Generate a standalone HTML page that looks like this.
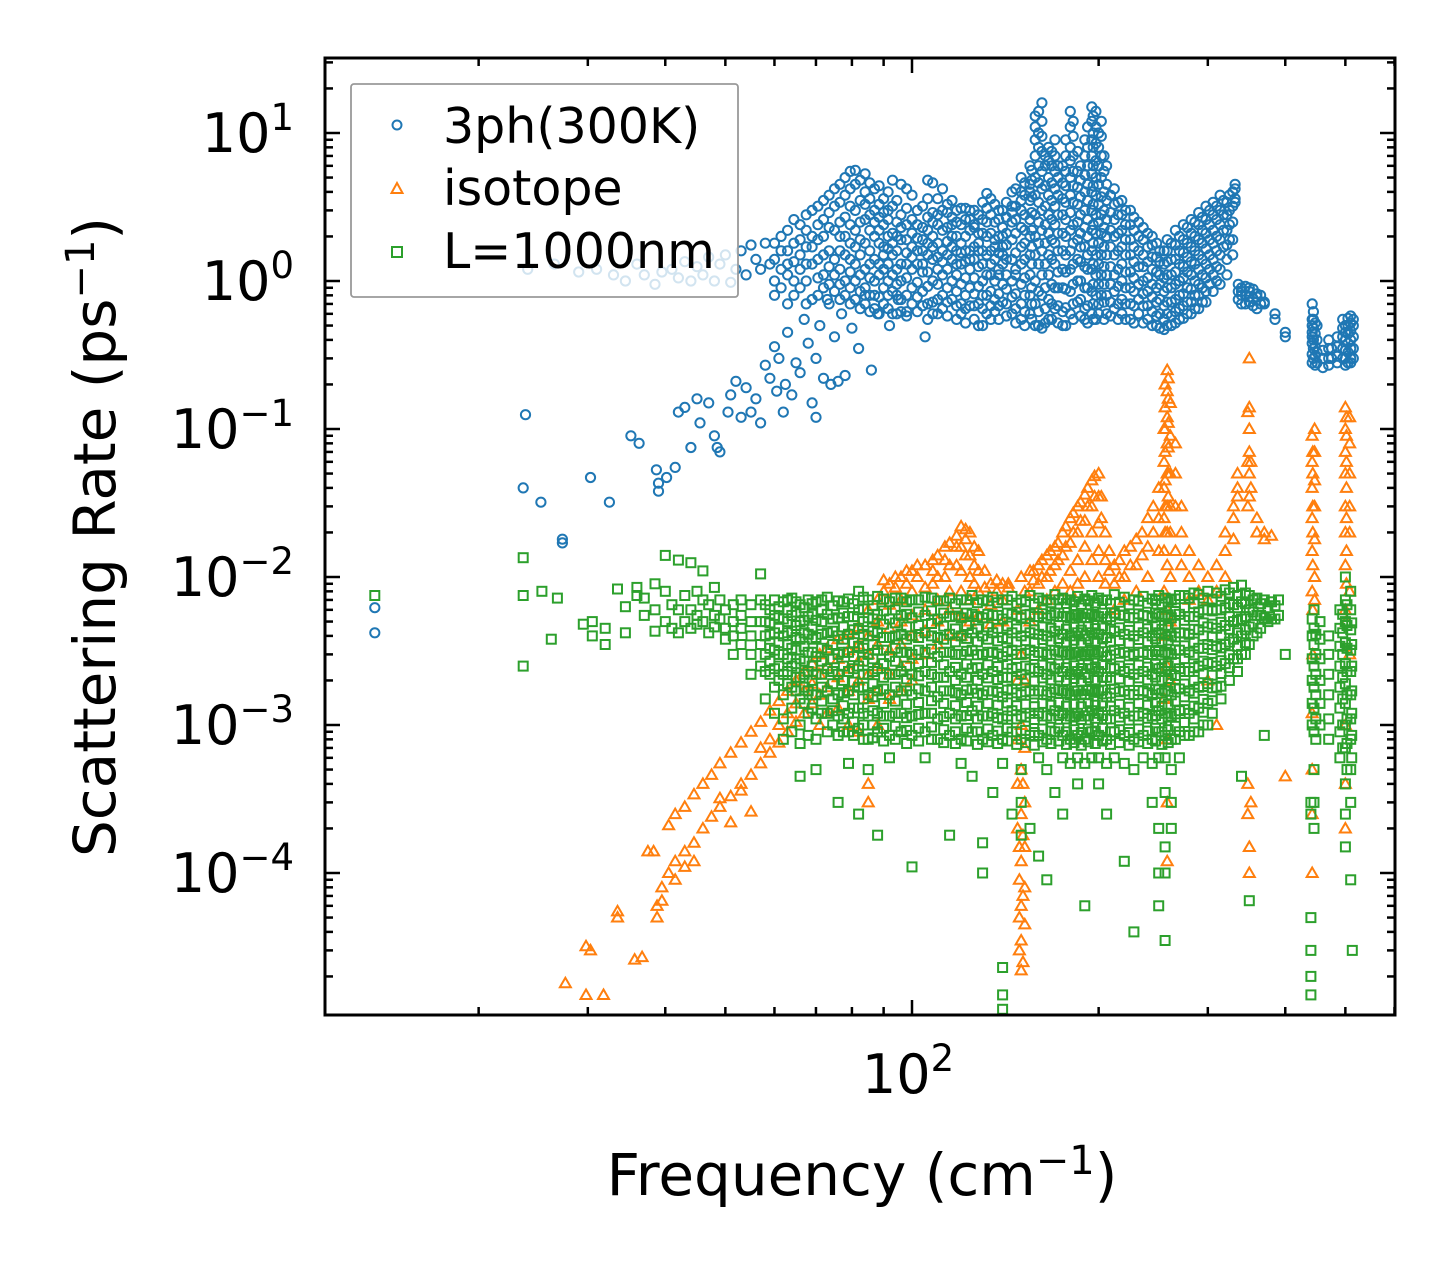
<!DOCTYPE html>
<html><head><meta charset="utf-8"><style>
html,body{margin:0;padding:0;background:#fff;}
svg{display:block;font-family:"DejaVu Sans","Liberation Sans",sans-serif;}
</style></head><body>
<svg id="chart" width="1455" height="1265" viewBox="0 0 1455 1265" xmlns="http://www.w3.org/2000/svg">
<defs><clipPath id="plotclip"><rect x="325" y="58" width="1070" height="957"/></clipPath></defs>
<rect x="0" y="0" width="1455" height="1265" fill="#fff"/>
<g id="marks" clip-path="url(#plotclip)"></g>
<g id="axes"></g>
<text transform="translate(115,537) rotate(-90)" text-anchor="middle" font-size="58">Scattering Rate (ps<tspan dy="-21" font-size="40">−1</tspan><tspan dy="21">)</tspan></text>
<text x="862" y="1195" text-anchor="middle" font-size="58">Frequency (cm<tspan dy="-21" font-size="40">−1</tspan><tspan dy="21">)</tspan></text>
<g>
<rect x="351" y="84" width="387" height="213" rx="3" fill="#fff" fill-opacity="0.8" stroke="#999" stroke-width="1.8"/>
<circle cx="397" cy="125" r="4.5" fill="none" stroke="#1f77b4" stroke-width="2"/>
<text x="443" y="143" font-size="49">3ph(300K)</text>
<polygon points="397,183 402.5,193 391.5,193" fill="none" stroke="#ff7f0e" stroke-width="2"/>
<text x="443" y="205" font-size="49">isotope</text>
<rect x="392" y="247" width="10" height="10" fill="none" stroke="#2ca02c" stroke-width="2"/>
<text x="443" y="268" font-size="49">L=1000nm</text>
</g>
</svg>
<script>
// ---- data (frequency cm^-1, list of scattering rates ps^-1) ----
const blueSparse = [[13.6,[0.0062,0.0042]],[23.6,[0.04]],[23.8,[0.125]],[25.2,[0.032]],[27.3,[0.018,0.017]],[30.3,[0.047]],[32.5,[0.032]],[35.2,[0.09]],[36.3,[0.08]],[38.7,[0.053]],[39.0,[0.043,0.038]],[40.2,[0.047]],[41.5,[0.055]],[42,[0.13]],[43,[0.14]],[44,[0.075]],[45,[0.16]],[45.5,[0.11]],[47,[0.15]],[48,[0.09]],[48.5,[0.075]],[49,[0.07]],[50.5,[0.13]],[51,[0.17]],[52,[0.21]],[53,[0.12]],[54,[0.19]],[55,[0.13]],[56,[0.16]],[57,[0.11]],[58,[0.27]],[59,[0.22]],[60,[0.36]],[60.5,[0.18]],[61,[0.3]],[62,[0.13]],[62.5,[0.2]],[63,[0.45]],[64,[0.17]],[65,[0.28]],[66,[0.24]],[67,[0.55]],[68,[0.38]],[69,[0.15]],[70,[0.12,0.3]],[71,[0.5]],[72,[0.22]],[73,[0.75]],[74,[0.2]],[75,[0.42]],[76,[0.21]],[77,[0.6]],[78,[0.23]],[80,[0.48]],[82,[0.35]],[84,[0.8]],[86,[0.25]],[88,[0.6]],[92,[0.5]],[95,[0.75]],[98,[0.62]],[105,[0.42]],
[24,[1.2]],[26.5,[1.3]],[29,[1.15]],[31,[1.2]],[33,[1.1]],[34.5,[1.0]],[36,[1.3]],[37,[1.1]],[38.5,[0.95]],[39.5,[1.15]],[41,[1.2]],[42,[1.05]],[43,[1.35]],[44,[1.0]],[45,[1.25]],[46,[1.1]],[47,[1.45]],[48,[1.0]],[49,[1.3]],[50,[1.5]],[51,[0.98]],[52,[1.2]],[53,[1.6]],[54,[1.1]],[55,[1.75]],[56,[1.4]],[57,[1.2]],[58,[1.8]],[59,[1.3]]];
const blueDense = [[60,[1.0,1.4,1.8,0.8]],[63,[1.6,2.2,1.1,0.7,1.3]],[66,[2.4,1.5,1.9,0.9,1.2]],[69,[2.0,1.3,3.0,0.75,1.7]],[72,[2.6,1.5,1.1,0.9,3.5,2.0]],[75,[3.2,4.2,1.4,0.85,2.2,1.1]],[78,[5.0,3.8,2.7,1.5,1.0,0.8,2.0]],[81,[5.6,4.5,3.0,2.2,1.3,1.0,0.75,1.7]],[84,[5.3,4.0,2.6,1.8,1.2,0.9,0.7,3.3]],[87,[4.2,3.0,2.0,1.4,1.0,0.8,0.65,2.5]],[90,[3.6,2.4,1.7,1.2,0.9,0.7,2.9,1.5]],[93,[4.8,3.2,2.1,1.5,1.1,0.85,0.6,1.8]],[96,[4.5,2.8,1.9,1.3,1.0,0.75,0.62,2.3]],[100,[3.8,2.6,1.7,1.2,0.9,0.7,2.1,1.45]],[104,[3.2,2.3,1.6,1.15,0.85,0.68,1.9,1.3]],[108,[4.6,2.9,2.0,1.4,1.0,0.72,2.5,1.7,0.6]],[112,[4.2,3.0,2.2,1.6,1.1,0.8,0.65,1.35]],[116,[3.5,2.7,2.0,1.4,1.0,0.75,1.7,2.4]],[120,[3.1,2.4,1.8,1.3,0.95,0.7,0.6,1.55]],[124,[3.0,2.2,1.6,1.2,0.9,0.68,1.4,2.6]],[128,[2.8,2.1,1.6,1.25,0.92,0.7,0.5,1.8]],[132,[3.9,3.1,2.0,1.5,1.1,0.8,0.6,2.5]],[136,[3.3,2.5,1.9,1.4,1.0,0.75,0.62,1.7]],[140,[3.0,2.3,1.7,1.3,0.95,0.72,1.5,2.0]],[145,[4.0,3.2,2.5,1.9,1.4,1.0,0.78,0.6,2.9]],[150,[5.0,4.0,3.0,2.3,1.7,1.3,0.95,0.7,0.55,3.5]],[155,[6.0,4.5,3.5,2.6,2.0,1.5,1.1,0.8,0.6,4.0]],[158,[11,13,9,7,5,3.8,2.8,2.0,1.5,1.0,0.7,0.5]],[162,[16,12,9.5,7.5,5.5,4.2,3,2.2,1.6,1.1,0.8,0.48]],[166,[8,6.5,5,3.8,2.8,2.1,1.5,1.1,0.75,0.55]],[170,[7,9,5.5,4.2,3.2,2.4,1.8,1.3,0.9,0.65]],[175,[6,4.6,3.6,2.8,2.1,1.6,1.2,0.9,0.62,0.5]],[180,[14,11,8,6.5,5,3.8,2.9,2.2,1.6,1.2,0.85,0.6]],[185,[7.5,5.5,4.3,3.3,2.5,1.9,1.4,1.0,0.72]],[190,[9,7,5.2,4,3,2.3,1.7,1.25,0.9,0.65,0.55]],[195,[15,12,9,7,5.3,4,3,2.2,1.6,1.2,0.85,0.6]],[198,[14,11,8.5,6.5,5,3.8,2.8,2.1,1.5,1.1,0.8,0.55]],[202,[12,9.5,7,5,3.7,2.8,2.1,1.5,1.1,0.8]],[206,[6,4.5,3.5,2.6,2.0,1.5,1.1,0.8,0.6]],[212,[4.2,3.3,2.6,2.0,1.5,1.1,0.85,0.65]],[218,[3.5,2.8,2.2,1.7,1.3,1.0,0.75,0.6]],[225,[3.0,2.4,1.9,1.5,1.15,0.9,0.7,0.55]],[232,[2.5,2.0,1.6,1.25,0.95,0.75,0.6]],[240,[2.1,1.7,1.35,1.05,0.85,0.68,0.55]],[248,[1.8,1.45,1.15,0.9,0.72,0.58,0.5]],[255,[1.6,1.3,1.05,0.85,0.68,0.55,0.47]],[262,[1.8,1.4,1.1,0.9,0.72,0.58,0.5]],[270,[2.0,1.6,1.3,1.0,0.8,0.65,0.55]],[278,[2.3,1.8,1.45,1.15,0.9,0.72,0.6]],[286,[2.5,2.0,1.6,1.3,1.0,0.8,0.65]],[294,[2.7,2.2,1.8,1.4,1.1,0.9,0.72]],[302,[3.0,2.4,1.9,1.5,1.2,0.95]],[310,[3.2,2.6,2.0,1.6,1.25,1.0]],[318,[3.5,2.8,2.2,1.7]],[325,[3.8,3.0,2.4,1.9]],[332,[4.2,4.5,3.4,3.6]],[340,[0.9,0.8,0.7,0.85]],[350,[0.85,0.72,0.9,0.78]],[360,[0.78,0.65,0.82]],[370,[0.72,0.7]],[385,[0.6,0.55]],[400,[0.45,0.42]],[442,[0.7,0.55,0.45,0.38,0.32,0.28,0.5,0.42]],[450,[0.5,0.4,0.33,0.28]],[470,[0.4,0.35,0.3,0.27]],[485,[0.42,0.36,0.31,0.28]],[500,[0.5,0.45,0.4,0.34,0.3,0.27]],[510,[0.58,0.52,0.46,0.4,0.35,0.3,0.28]]];
const blueDenseB = [[61.5,[0.9,1.2,1.6,2.0]],[64.5,[0.8,1.0,1.35,1.8,2.6]],[67.5,[0.7,1.0,1.3,1.7,2.2,2.8]],[70.5,[0.8,1.05,1.4,1.9,2.4,3.2]],[73.5,[0.7,0.95,1.25,1.6,2.3,2.9,3.8]],[76.5,[0.75,0.95,1.2,1.6,2.0,2.5,3.4,4.5]],[79.5,[0.7,0.9,1.15,1.4,1.8,2.4,3.2,4.2,5.5]],[82.5,[0.65,0.85,1.1,1.5,1.9,2.5,3.5,4.8]],[85.5,[0.62,0.8,1.05,1.3,1.6,2.2,2.8,3.6,4.6]],[88.5,[0.6,0.78,1.1,1.3,1.8,2.2,2.7,3.3,4.4]],[91.5,[0.65,0.8,1.0,1.3,1.65,2.0,2.6,3.0,4.0]],[94.5,[0.6,0.8,0.95,1.2,1.6,2.0,2.5,3.5]],[98,[0.58,0.8,1.05,1.3,1.55,1.9,2.4,3.1,4.2]],[102,[0.62,0.78,0.98,1.3,1.6,1.95,2.4,3.0]],[106,[0.55,0.7,0.92,1.15,1.5,1.8,2.2,2.7,3.6,4.8]],[110,[0.6,0.75,0.95,1.2,1.45,1.8,2.4,2.8,3.6]],[114,[0.58,0.72,0.9,1.2,1.5,1.85,2.3,2.9,3.3]],[118,[0.55,0.68,0.85,1.1,1.3,1.6,2.0,2.5,3.0]],[122,[0.52,0.65,0.8,1.05,1.35,1.6,2.0,2.6,3.1]],[126,[0.55,0.68,0.82,1.05,1.4,1.7,2.3,2.4,3.0]],[130,[0.5,0.65,0.8,1.0,1.3,1.6,2.1,2.6,3.4]],[134,[0.55,0.68,0.85,1.1,1.3,1.6,2.1,2.8,3.6]],[138,[0.55,0.68,0.82,1.1,1.2,1.55,2.0,2.6,3.0]],[142,[0.58,0.7,0.88,1.1,1.4,1.75,2.1,2.7,3.4]],[147,[0.52,0.65,0.82,1.1,1.2,1.55,2.1,2.6,3.2,4.2]],[152,[0.5,0.62,0.8,1.05,1.4,1.8,2.2,2.8,3.8,4.6]],[156,[0.55,0.7,0.9,1.3,1.7,2.2,2.9,3.7,4.8,5.6]],[160,[0.5,0.62,0.85,1.3,1.8,2.5,3.4,4.6,6,8,10,14]],[164,[0.52,0.65,0.9,1.3,1.8,2.4,3.2,4.4,6,7]],[168,[0.55,0.7,0.95,1.4,1.9,2.6,3.5,4.6,6,7.5]],[172,[0.52,0.68,0.9,1.15,1.6,2.1,2.8,3.8,5,6]],[177,[0.5,0.66,0.88,1.15,1.5,2.0,2.6,3.4,4.4,5.5,7,9]],[182,[0.55,0.7,0.95,1.3,1.8,2.4,3.4,4.4,5.5,7,9.5,12]],[187,[0.58,0.75,1.0,1.35,1.7,2.1,2.8,3.7,4.8,6]],[192,[0.52,0.68,0.9,1.2,1.5,2.0,2.6,3.5,4.5,6,8,11]],[196,[0.55,0.7,0.95,1.3,1.8,2.4,3.3,4.4,6,8,10,13]],[200,[0.6,0.7,0.95,1.3,1.8,2.5,3.3,4.5,6,8,10]],[204,[0.55,0.72,0.95,1.25,1.7,2.3,3,4,5.5,7]],[209,[0.58,0.72,0.95,1.25,1.7,2.2,2.9,3.8]],[215,[0.55,0.7,0.92,1.2,1.6,2.1,2.8,3.4]],[221,[0.55,0.7,0.9,1.15,1.5,1.9,2.4,3.0]],[228,[0.52,0.68,0.85,1.05,1.35,1.7,2.2,2.7]],[236,[0.52,0.68,0.82,1.0,1.25,1.5,1.9,2.3]],[244,[0.5,0.62,0.78,0.95,1.2,1.45,1.75,2.0]],[251,[0.48,0.6,0.75,0.95,1.1,1.35,1.6]],[258,[0.5,0.6,0.72,0.9,1.1,1.35,1.6,1.9]],[266,[0.52,0.62,0.75,0.95,1.15,1.4,1.75,2.2]],[274,[0.56,0.68,0.82,1.05,1.25,1.55,1.9,2.4]],[282,[0.6,0.72,0.88,1.1,1.35,1.7,2.1,2.6]],[290,[0.65,0.8,0.95,1.2,1.5,1.9,2.4,2.9]],[298,[0.72,0.85,1.05,1.3,1.65,2.1,2.6,3.2]],[306,[0.85,1.1,1.4,1.8,2.2,2.8,3.4]],[314,[0.95,1.2,1.5,1.9,2.4,3.0,3.8]],[322,[1.1,1.4,1.75,2.2,2.8,3.4]],[329,[1.5,1.9,2.5,3.2,4.0]],[336,[0.75,0.85,0.95]],[345,[0.7,0.8,0.92]],[355,[0.68,0.76,0.88]],[365,[0.7,0.8]],[444,[0.3,0.35,0.4,0.48,0.55,0.62]],[447,[0.27,0.31,0.36,0.44,0.52]],[460,[0.3,0.26,0.34]],[475,[0.3,0.35]],[495,[0.3,0.35,0.42,0.48,0.55]],[505,[0.28,0.33,0.38,0.44,0.5,0.56]],[515,[0.3,0.35,0.42,0.5,0.55]]];
const orangePts = [[27.6,[1.8e-5]],[29.8,[1.5e-5,3.2e-5]],[30.3,[3e-5]],[31.8,[1.5e-5]],[33.5,[5.5e-5,5e-5]],[35.7,[2.6e-5]],[36.7,[2.7e-5]],[37.5,[1.4e-4]],[38.3,[1.4e-4]],[38.8,[5e-5,6e-5]],[39.5,[8e-5,6.5e-5]],[40.5,[2.1e-4,1e-4]],[41.5,[2.5e-4,1.2e-4,9e-5]],[43,[2.8e-4,1.4e-4,1.1e-4]],[44.5,[3.4e-4,1.6e-4,1.2e-4]],[46,[4e-4,2e-4]],[47.5,[4.6e-4,2.4e-4]],[49,[5.5e-4,2.8e-4,3.2e-4]],[51,[6.5e-4,3.3e-4,2.2e-4]],[53,[7.6e-4,4e-4,3.6e-4]],[55,[9e-4,4.6e-4,2.6e-4]],[57,[1.05e-3,5.5e-4,7e-4]],[59,[1.25e-3,6.5e-4,8e-4]],[61,[1.45e-3,7.6e-4,1e-3]],[63,[1.7e-3,9e-4,1.2e-3]],[65,[2e-3,1.05e-3,1.4e-3]],[67,[2.3e-3,1.2e-3,1.7e-3]],[69,[2.6e-3,1.4e-3,1.9e-3]],[71,[3e-3,1.6e-3,2.2e-3,1e-3]],[73,[3.3e-3,1.8e-3,2.5e-3,1.2e-3]],[76,[3.8e-3,2.1e-3,2.8e-3,1.3e-3]],[79,[4.2e-3,2.4e-3,3.2e-3,1.0e-3,1.7e-3]],[82,[4.6e-3,2.7e-3,3.5e-3,0.9e-3,2e-3]],[85,[6e-3,4e-3,3e-3,2.2e-3,1.5e-3,4e-4,3e-4]],[88,[7e-3,5e-3,3.5e-3,2.5e-3,1.7e-3,1e-3]],[92,[9e-3,6.5e-3,4.5e-3,3.2e-3,2.2e-3,1.5e-3]],[96,[1e-2,7e-3,5e-3,3.5e-3,2.5e-3,1.7e-3]],[100,[1.1e-2,8e-3,5.5e-3,4e-3,2.8e-3,2e-3]],[105,[1.2e-2,8.5e-3,6e-3,4.3e-3,3e-3]],[110,[1.4e-2,1e-2,7e-3,5e-3,3.5e-3]],[115,[1.7e-2,1.2e-2,8e-3,6e-3,4e-3]],[120,[2.2e-2,1.6e-2,1.1e-2,8e-3,5.5e-3,4e-3]],[124,[2e-2,1.4e-2,1e-2,7e-3,5e-3]],[128,[1.5e-2,1.1e-2,8e-3,5.5e-3]],[134,[9e-3,6.5e-3,4.8e-3]],[140,[9e-3,7e-3,5e-3]],[148,[6e-3,2e-3,8e-4,4e-4,2e-4]],[150,[1e-2,3e-3,1e-3,5e-4,2.5e-4,1.2e-4,6e-5,3.5e-5,2.2e-5]],[152,[8e-3,2e-3,7e-4,3e-4,1.5e-4,8e-5,4.5e-5]],[155,[1.1e-2,8e-3,5e-3]],[160,[1.2e-2,9e-3,6e-3]],[165,[1.4e-2,1e-2,7e-3]],[170,[1.6e-2,1.2e-2,8e-3]],[175,[2e-2,1.4e-2,9e-3]],[180,[2.5e-2,1.7e-2,1.1e-2,8e-3]],[185,[3e-2,2e-2,1.3e-2,9e-3]],[190,[3.6e-2,2.4e-2,1.6e-2,1e-2]],[195,[4.5e-2,3e-2,2e-2,1.3e-2]],[200,[5e-2,3.5e-2,2.3e-2,1.5e-2,1e-2]],[205,[2e-2,1.3e-2,9e-3]],[212,[1.2e-2,9e-3,6e-3]],[220,[1.5e-2,1e-2,7e-3]],[230,[1.8e-2,1.2e-2,8e-3]],[240,[2.5e-2,1.6e-2,1e-2]],[250,[4e-2,2.5e-2,1.5e-2]],[255,[0.1,0.06,0.04,0.025,0.015,8e-3,4e-3,1.5e-3]],[258,[0.25,0.18,0.12,0.08,0.05,0.03,0.02,1.2e-2,6e-3,2.5e-3,8e-4,3e-4,1.2e-4]],[261,[0.15,0.09,0.05,0.03,0.02,1e-2,5e-3,2e-3]],[266,[0.08,0.05,0.03,0.015]],[272,[0.03,0.02,0.012]],[280,[0.015,0.01,0.007]],[290,[0.012,0.008]],[300,[0.01,7e-3,2e-3]],[310,[0.012,8e-3,1e-3]],[320,[0.02,0.015,0.01]],[330,[0.03,0.025,0.018]],[335,[0.04,0.05,0.035]],[348,[0.13,0.06,0.03,4e-4,2.5e-4]],[350,[0.3,0.14,0.1,0.07,0.05,0.035,1.5e-4,1e-4]],[352,[0.06,0.04,3e-4]],[360,[0.025,0.02]],[370,[0.02,0.018]],[380,[0.019]],[400,[4.5e-4]],[442,[0.09,0.06,0.04,0.025,0.015,8e-3,1.2e-3,5e-4,2.5e-4,1e-4]],[446,[0.1,0.07,0.045,0.03,0.018,0.01,7e-3]],[500,[0.14,0.1,0.07,0.05,0.03,0.02,0.012,6e-3,1e-3,4e-4,2e-4]],[508,[0.12,0.08,0.05,0.03,0.02,8e-3,3e-3]]];
const orangePtsB = [[90,[0.008,0.0095]],[94,[0.0085,0.01]],[98,[0.009,0.011]],[102,[0.01,0.012]],[108,[0.011,0.013,0.009]],[113,[0.013,0.016,0.01]],[118,[0.016,0.019,0.012]],[122,[0.018,0.021,0.014]],[126,[0.016,0.012,0.009]],[131,[0.011,0.0085]],[137,[0.0095,0.008]],[143,[0.009,0.0085]],[149,[1.5e-4,9e-5,5e-5,3e-5]],[151,[4e-4,1.8e-4,7e-5,2.5e-5]],[157,[0.011,0.0095]],[162,[0.013,0.01]],[167,[0.015,0.011]],[172,[0.017,0.013]],[177,[0.022,0.016]],[182,[0.027,0.02]],[187,[0.032,0.024]],[192,[0.04,0.03]],[197,[0.048,0.035]],[202,[0.035,0.025]],[208,[0.015,0.011]],[216,[0.013,0.01]],[225,[0.016,0.012]],[235,[0.02,0.014]],[245,[0.03,0.02]],[256,[0.2,0.14,0.1,0.07,0.045,0.03,0.02]],[259,[0.22,0.16,0.11,0.075,0.05,0.035]],[443,[0.07,0.05,0.03,0.02,0.012,0.006,0.003]],[502,[0.12,0.09,0.06,0.04,0.025,0.015,0.009,0.005]]];
// green rates given in units of 1e-3 ps^-1
const greenPtsMilli = [[13.6,[7.5]],[23.6,[7.5,13.5,2.5]],[25.3,[8]],[26.2,[3.8]],[26.8,[7.2]],[29.5,[4.8]],[30.5,[5,4]],[32,[4.5,3.5]],[33.5,[8.3]],[34.5,[6.3,4.2]],[36,[7.5,8.5]],[37,[5.5,7.2]],[38.5,[9,6,4.3]],[40,[8,5,14]],[41,[6.5,4.5]],[42,[13,6,4.2]],[43,[7.5,5]],[44,[12.5,6,4.5]],[45,[8,5.5,4.8]],[46,[7,5,11]],[47,[6.5,4.2]],[48,[8.5,5.5,4.6]],[49,[7,5.2]],[50,[6,4.5,3.8]],[51.5,[6.5,5,4,3]],[53,[7,5.5,4.5,3.5]],[55,[6.5,5,4,3,2.2]],[57,[10.5,7,5,3.5,2.5]],
[58,[6.5,5,4,3,2.3,1.5]],[60,[7,5.5,4.2,3.2,2.4,1.8,1.2]],[62,[6.8,5.2,4,3,2.2,1.6,1.1,0.8]],[64,[7.2,5.5,4.3,3.3,2.5,1.8,1.3,0.9]],[66,[6.5,5,3.8,2.8,2.1,1.5,1.0,0.75,0.45]],[68,[7,5.4,4.1,3.1,2.3,1.7,1.2,0.85]],[70,[6.8,5.1,3.9,2.9,2.2,1.6,1.1,0.8,0.5]],[73,[7.3,5.6,4.2,3.2,2.4,1.7,1.2,0.9]],[76,[6.9,5.3,4,3,2.2,1.6,1.15,0.85,0.3]],[79,[7.1,5.4,4.1,3.1,2.3,1.7,1.2,0.9,0.55]],[82,[8,6,4.5,3.4,2.5,1.8,1.3,0.95,0.25]],[85,[7,5.3,4,3,2.2,1.6,1.15,0.8,0.5]],[88,[7.4,5.6,4.2,3.2,2.4,1.7,1.2,0.9,0.18]],[92,[6.8,5.2,3.9,2.9,2.2,1.6,1.15,0.85,0.6]],[96,[7.2,5.5,4.1,3.1,2.3,1.7,1.2,0.9]],[100,[7,5.3,4,3,2.2,1.6,1.15,0.85,0.11]],[105,[7.3,5.5,4.2,3.1,2.3,1.7,1.2,0.9,0.6]],[110,[6.9,5.2,3.9,2.9,2.1,1.55,1.1,0.8]],[115,[7.2,5.4,4.1,3.1,2.3,1.7,1.2,0.85,0.18]],[120,[7,5.3,4,3,2.2,1.6,1.15,0.8,0.55]],[125,[7.5,5.6,4.2,3.2,2.4,1.75,1.25,0.9,0.45]],[130,[7,5.3,4,3,2.2,1.6,1.15,0.8,0.1,0.16]],[135,[7.3,5.5,4.2,3.1,2.3,1.7,1.2,0.85,0.35]],[140,[7,5.2,3.9,2.9,2.1,1.55,1.1,0.8,0.55,0.023,0.015,0.012]],[145,[7.4,5.6,4.2,3.2,2.4,1.75,1.25,0.9,0.25]],[150,[7,5.3,4,3,2.2,1.6,1.15,0.8,0.5,0.3,0.18]],[155,[7.5,5.6,4.2,3.2,2.4,1.7,1.2,0.85,0.2]],[160,[7.2,5.4,4.1,3.1,2.3,1.7,1.2,0.85,0.6,0.13]],[165,[7,5.3,4,3,2.2,1.6,1.15,0.8,0.5,0.09]],[170,[7.6,5.7,4.3,3.2,2.4,1.75,1.25,0.9,0.35]],[175,[7.2,5.4,4.1,3.1,2.3,1.7,1.2,0.85,0.6,0.25]],[180,[7,5.3,4,3,2.2,1.6,1.15,0.8,0.55]],[185,[7.4,5.5,4.2,3.1,2.3,1.7,1.2,0.85,0.6,0.4]],[190,[7.1,5.3,4,3,2.2,1.6,1.15,0.8,0.55,0.06]],[195,[7.5,5.6,4.2,3.2,2.4,1.75,1.25,0.9,0.6]],[200,[7.2,5.4,4.1,3.1,2.3,1.7,1.2,0.85,0.6,0.4]],[206,[7,5.2,3.9,2.9,2.1,1.55,1.1,0.8,0.55,0.25]],[212,[7.6,5.7,4.3,3.2,2.4,1.75,1.25,0.9,0.6]],[220,[7.3,5.5,4.1,3.1,2.3,1.7,1.2,0.85,0.55,0.12]],[228,[7,5.3,4,3,2.2,1.6,1.15,0.8,0.5,0.04]],[236,[7.4,5.5,4.2,3.1,2.3,1.7,1.2,0.85,0.6]],[244,[7.1,5.3,4,3,2.2,1.6,1.15,0.8,0.55,0.3]],[250,[7.5,5.6,4.2,3.2,2.4,1.75,1.25,0.9,0.6,0.2,0.1,0.06]],[256,[7.2,5.4,4.1,3.1,2.3,1.7,1.2,0.85,0.6,0.35,0.15,0.1,0.035]],[262,[7,5.3,4,3,2.2,1.6,1.15,0.8,0.5,0.3,0.2]],[270,[7.5,5.6,4.2,3.2,2.4,1.75,1.25,0.9,0.6]],[280,[7.2,5.4,4.1,3.1,2.3,1.7,1.2,0.85]],[290,[7.6,5.8,4.4,3.3,2.5,1.8,1.3,0.9]],[300,[8,6,4.6,3.5,2.6,1.9,1.4,1.0]],[310,[7.8,6,4.5,3.4,2.5,1.8]],[320,[8.2,6.2,4.7,3.5,2.6]],[330,[8.5,6.5,5,3.8,2.8]],[340,[8.8,6.8,5.2,4,3,0.45]],[350,[7.5,6,4.6,3.5,0.065]],[360,[7.2,5.5,4.2]],[370,[7,5.3,0.85]],[380,[6.8,5.2]],[390,[7,5.5]],[400,[3]],
[440,[0.03,0.02,0.015,0.05,0.3,0.25]],[445,[6,4.5,3.5,2.5,1.8,1.3,0.9,0.5,0.3,0.2]],[455,[5,3.8,2.8,2,1.4,1]],[470,[4,3,2.2,1.6,1.1,0.8]],[490,[6,4.5,3.4,2.5,1.8,1.3,0.9,0.6]],[500,[10,7,5,3.6,2.6,1.9,1.4,1,0.7,0.4,0.25,0.15]],[510,[8,6,4.4,3.2,2.3,1.6,1.1,0.8,0.5,0.3,0.09]],[513,[0.03]]];
const greenPtsMilliB = [[59,[2.2,2.7,3.3,4.1,4.9,6.0]],[61,[2.0,2.5,3.0,3.6,4.5,5.3,6.3]],[63,[1.9,2.3,2.8,3.5,4.2,5.0,6.0,7.0]],[65,[1.7,2.1,2.6,3.2,3.9,4.7,5.8,6.8]],[67,[1.4,1.8,2.2,2.7,3.4,4.2,5.1,6.2]],[69,[1.3,1.6,2.0,2.5,3.1,3.8,4.6,5.6,6.6]],[71.5,[1.2,1.45,1.8,2.2,2.7,3.3,4.1,5,6,7]],[74.5,[1.0,1.25,1.5,1.9,2.3,2.8,3.5,4.3,5.2,6.4]],[77.5,[0.9,1.1,1.35,1.65,2.0,2.5,3.1,3.8,4.6,5.7,6.8]],[80.5,[0.85,1.05,1.3,1.6,1.95,2.4,2.9,3.6,4.4,5.4,6.6]],[83.5,[0.8,1.0,1.2,1.5,1.8,2.2,2.7,3.3,4.1,5,6.1,7.3]],[86.5,[0.82,1.0,1.25,1.55,1.9,2.3,2.8,3.5,4.3,5.2,6.4]],[90,[0.78,0.95,1.15,1.4,1.75,2.1,2.6,3.2,3.9,4.8,5.9,7.1]],[94,[0.8,0.98,1.2,1.45,1.8,2.2,2.7,3.3,4.0,4.9,6.0,7.2]],[98,[0.75,0.92,1.12,1.38,1.7,2.05,2.5,3.1,3.8,4.6,5.6,6.8]],[102.5,[0.78,0.95,1.18,1.42,1.75,2.15,2.6,3.2,3.9,4.7,5.8,7]],[107.5,[0.8,0.97,1.2,1.46,1.8,2.2,2.65,3.25,4,4.85,5.9,7.2]],[112.5,[0.76,0.93,1.14,1.4,1.7,2.1,2.55,3.1,3.8,4.65,5.7,6.9]],[117.5,[0.75,0.9,1.1,1.35,1.65,2.0,2.45,3.0,3.65,4.45,5.45,6.6]],[122.5,[0.78,0.95,1.16,1.42,1.72,2.1,2.58,3.15,3.85,4.7,5.7,7]],[127.5,[0.74,0.9,1.1,1.34,1.64,2.0,2.44,2.98,3.65,4.45,5.4,6.7]],[132.5,[0.77,0.94,1.15,1.4,1.7,2.08,2.55,3.1,3.8,4.6,5.6,6.9]],[137.5,[0.75,0.91,1.12,1.36,1.66,2.03,2.48,3.02,3.7,4.5,5.5,6.7]],[142.5,[0.78,0.95,1.15,1.41,1.72,2.1,2.57,3.13,3.82,4.66,5.7,7]],[147.5,[0.74,0.9,1.1,1.35,1.65,2.0,2.45,3.0,3.65,4.45,5.45,6.65]],[152.5,[0.76,0.92,1.13,1.38,1.68,2.05,2.5,3.05,3.72,4.55,5.55,6.8]],[157.5,[0.73,0.89,1.09,1.33,1.62,1.98,2.42,2.95,3.6,4.4,5.4,6.6]],[162.5,[0.77,0.94,1.15,1.4,1.7,2.08,2.54,3.1,3.78,4.6,5.65,6.9]],[167.5,[0.75,0.91,1.11,1.36,1.66,2.02,2.47,3.0,3.68,4.5,5.5,6.7]],[172.5,[0.78,0.95,1.16,1.42,1.73,2.11,2.58,3.15,3.84,4.7,5.7,7]],[177.5,[0.74,0.9,1.1,1.34,1.64,2.0,2.44,2.98,3.64,4.44,5.42,6.62]],[182.5,[0.76,0.93,1.13,1.38,1.69,2.06,2.51,3.07,3.74,4.57,5.58,6.8]],[187.5,[0.73,0.89,1.09,1.33,1.62,1.98,2.41,2.94,3.59,4.38,5.35,6.53]],[192.5,[0.77,0.94,1.15,1.4,1.71,2.09,2.55,3.11,3.8,4.63,5.65,6.9]],[197.5,[0.75,0.91,1.11,1.36,1.66,2.02,2.47,3.01,3.67,4.48,5.47,6.68]],[203,[0.78,0.95,1.16,1.41,1.72,2.1,2.56,3.13,3.82,4.66,5.69,6.94]],[209,[0.74,0.9,1.1,1.34,1.64,2.0,2.44,2.97,3.63,4.43,5.4,6.6]],[216,[0.76,0.93,1.13,1.38,1.68,2.05,2.5,3.05,3.72,4.54,5.54,6.76]],[224,[0.73,0.89,1.08,1.32,1.61,1.97,2.4,2.93,3.57,4.36,5.32,6.49]],[232,[0.77,0.94,1.15,1.4,1.71,2.08,2.54,3.1,3.78,4.61,5.63,6.87]],[240,[0.75,0.91,1.11,1.36,1.65,2.02,2.46,3.0,3.66,4.47,5.45,6.65]],[247,[0.78,0.95,1.16,1.42,1.73,2.11,2.57,3.14,3.83,4.67,5.7,6.95]],[253,[0.74,0.9,1.1,1.34,1.64,2.0,2.44,2.98,3.63,4.43,5.41,6.6]],[259,[0.76,0.93,1.13,1.38,1.69,2.06,2.51,3.06,3.74,4.56,5.56,6.79]],[266,[0.8,0.98,1.19,1.45,1.77,2.16,2.64,3.22,3.93,4.79,5.85,7.1]],[275,[0.85,1.04,1.27,1.55,1.89,2.3,2.81,3.43,4.18,5.1,6.2,7.5]],[285,[0.9,1.1,1.34,1.64,2.0,2.44,2.98,3.63,4.43,5.4,6.6,7.8]],[295,[1.0,1.22,1.49,1.82,2.22,2.7,3.3,4.0,4.9,6.0,7.2]],[305,[1.2,1.46,1.78,2.17,2.65,3.23,3.94,4.8,5.9,7.1]],[315,[1.5,1.83,2.23,2.72,3.32,4.05,4.94,6.0,7.4]],[325,[2.0,2.44,2.98,3.63,4.43,5.4,6.6,7.8]],[335,[2.3,2.8,3.4,4.2,5.1,6.2,7.5]],[345,[3.0,3.6,4.4,5.4,6.6,7.8]],[355,[4.0,4.8,5.8,7.0]],[365,[4.5,5.5,6.6]],[375,[5.0,6.2]],[385,[5.2,6.4]],[442,[1.0,1.4,2,2.8,4,5.2]],[448,[0.8,1.1,1.6,2.2,3,4.1]],[495,[0.7,1,1.5,2.1,3,4.2,5.6]],[503,[0.5,0.75,1.1,1.6,2.3,3.3,4.7,6.5]],[512,[0.6,0.85,1.2,1.7,2.5,3.5,4.9]]];
const yTickExp = [1,0,-1,-2,-3,-4];
const xTickMajor = [100];
const xTickMinor = [20,30,40,50,60,70,80,90,200,300,400,500,600];

// ---- scales ----
const PL=325, PR=1395, PT=58, PB=1015;
const X0=912, XDEC=620, Y0=281, YDEC=148;
function sx(f){ return X0 + XDEC*Math.log10(f/100); }
function sy(r){ return Y0 - YDEC*Math.log10(r); }

const NS='http://www.w3.org/2000/svg';
const marks=document.getElementById('marks');
const axes=document.getElementById('axes');
function mk(tag,attrs,parent){ const e=document.createElementNS(NS,tag); for(const k in attrs) e.setAttribute(k,attrs[k]); parent.appendChild(e); return e; }

const gBlue=mk('g',{fill:'none',stroke:'#1f77b4','stroke-width':'2'},marks);


for(const [f,rs] of blueSparse.concat(blueDense,blueDenseB)) for(const r of rs){
  const c=mk('circle',{cx:sx(f).toFixed(1),cy:sy(r).toFixed(1),r:'4.6'},gBlue);
  
  
}
const gOr=mk('g',{fill:'none',stroke:'#ff7f0e','stroke-width':'2'},marks);


for(const [f,rs] of orangePts.concat(orangePtsB)) for(const r of rs){
  const x=sx(f), y=sy(r);
  const p=mk('polygon',{points:`${x},${y-5.5} ${x+5.5},${y+4} ${x-5.5},${y+4}`},gOr);
  
  
}
const gGr=mk('g',{fill:'none',stroke:'#2ca02c','stroke-width':'2'},marks);


for(const [f,rs] of greenPtsMilli.concat(greenPtsMilliB)) for(const rm of rs){
  const x=sx(f), y=sy(rm*1e-3);
  const q=mk('rect',{x:(x-4.5).toFixed(1),y:(y-4.5).toFixed(1),width:'9',height:'9'},gGr);
  
  
}

// ---- axes ----
const frame=mk('rect',{x:PL,y:PT,width:PR-PL,height:PB-PT,fill:'none',stroke:'#000','stroke-width':'3'},axes);


function tick(x1,y1,x2,y2,name){ const l=mk('line',{x1,y1,x2,y2,stroke:'#000','stroke-width':'2.5'},axes);   }
for(const f of xTickMajor){ const x=sx(f); tick(x,PB,x,PB-15,'x-major-tick'); tick(x,PT,x,PT+15,'x-major-tick-top');
  const t=mk('text',{x:x-4,y:1093,'text-anchor':'middle','font-size':'54'},axes);
  
  
  t.innerHTML='10<tspan dy="-22" font-size="37">'+Math.log10(f)+'</tspan>';
}
for(const f of xTickMinor){ const x=sx(f); if(x<PL||x>PR+1) continue; tick(x,PB,x,PB-8,'x-minor-tick'); tick(x,PT,x,PT+8,'x-minor-tick-top'); }
for(const e of yTickExp){ const y=sy(Math.pow(10,e)); tick(PL,y,PL+15,y,'y-major-tick'); tick(PR,y,PR-15,y,'y-major-tick-right');
  const t=mk('text',{x:294,y:y+19,'text-anchor':'end','font-size':'54'},axes);
  
  
  t.innerHTML='10<tspan dy="-22" font-size="37">'+(e<0?'−'+(-e):e)+'</tspan>';
}
for(let e=-5;e<=1;e++) for(let m=2;m<=9;m++){ const y=sy(m*Math.pow(10,e)); if(y<PT||y>PB) continue; tick(PL,y,PL+8,y,'y-minor-tick'); tick(PR,y,PR-8,y,'y-minor-tick-right'); }
</script>
</body></html>
